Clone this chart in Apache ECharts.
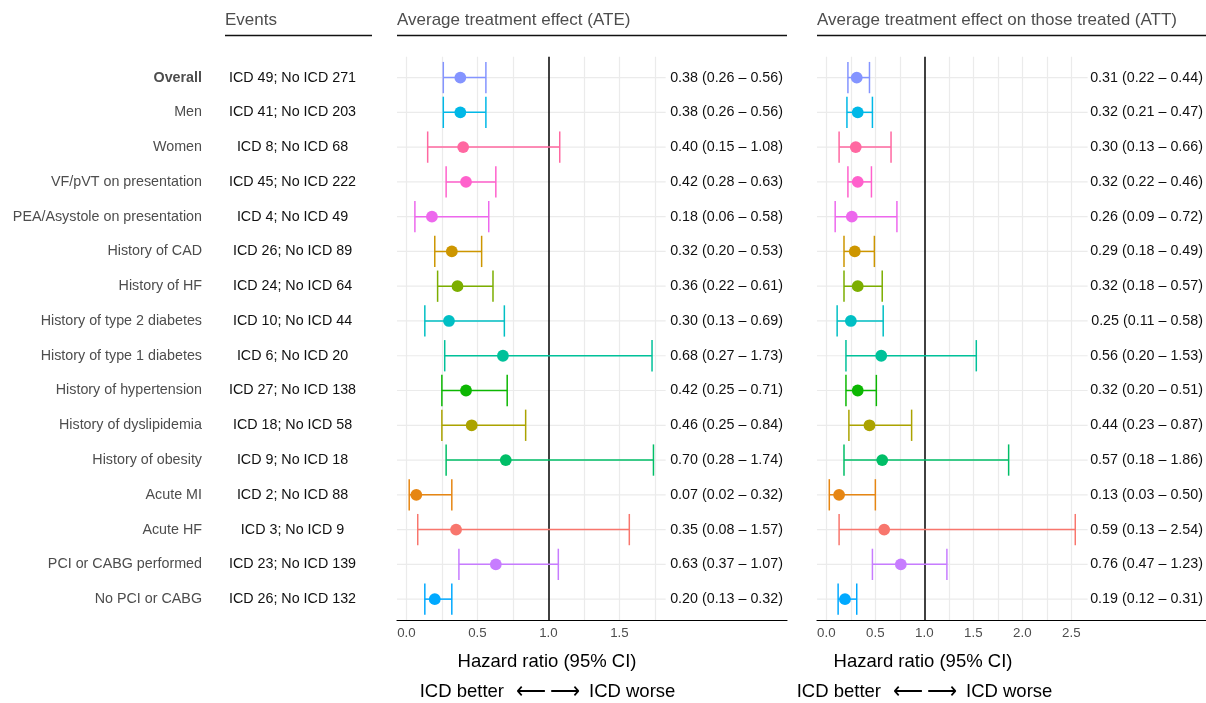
<!DOCTYPE html>
<html>
<head>
<meta charset="utf-8">
<title>ICD forest plot</title>
<script src="https://cdn.jsdelivr.net/npm/echarts@6/dist/echarts.min.js"></script>
<style>
  html, body { margin: 0; padding: 0; background: #fff; }
  #forest { width: 1206px; height: 703px; }
</style>
</head>
<body>
<div id="forest"></div>
<script>
// subgroups, top to bottom
var subgroups = [
  "Overall", "Men", "Women", "VF/pVT on presentation", "PEA/Asystole on presentation",
  "History of CAD", "History of HF", "History of type 2 diabetes", "History of type 1 diabetes",
  "History of hypertension", "History of dyslipidemia", "History of obesity",
  "Acute MI", "Acute HF", "PCI or CABG performed", "No PCI or CABG"
];
var icdEvents   = [49, 41, 8, 45, 4, 26, 24, 10, 6, 27, 18, 9, 2, 3, 23, 26];
var noIcdEvents = [271, 203, 68, 222, 49, 89, 64, 44, 20, 138, 58, 18, 88, 9, 139, 132];

// average treatment effect (ATE)
var ateEst = [0.38, 0.38, 0.40, 0.42, 0.18, 0.32, 0.36, 0.30, 0.68, 0.42, 0.46, 0.70, 0.07, 0.35, 0.63, 0.20];
var ateLo  = [0.26, 0.26, 0.15, 0.28, 0.06, 0.20, 0.22, 0.13, 0.27, 0.25, 0.25, 0.28, 0.02, 0.08, 0.37, 0.13];
var ateHi  = [0.56, 0.56, 1.08, 0.63, 0.58, 0.53, 0.61, 0.69, 1.73, 0.71, 0.84, 1.74, 0.32, 1.57, 1.07, 0.32];

// average treatment effect on those treated (ATT)
var attEst = [0.31, 0.32, 0.30, 0.32, 0.26, 0.29, 0.32, 0.25, 0.56, 0.32, 0.44, 0.57, 0.13, 0.59, 0.76, 0.19];
var attLo  = [0.22, 0.21, 0.13, 0.22, 0.09, 0.18, 0.18, 0.11, 0.20, 0.20, 0.23, 0.18, 0.03, 0.13, 0.47, 0.12];
var attHi  = [0.44, 0.47, 0.66, 0.46, 0.72, 0.49, 0.57, 0.58, 1.53, 0.51, 0.87, 1.86, 0.50, 2.54, 1.23, 0.31];

// tick labels and grid lines
var ateTicks = [0, 0.5, 1, 1.5];
var attTicks = [0, 0.5, 1, 1.5, 2, 2.5];
var ateGridX = [0, 0.25, 0.5, 0.75, 1.25, 1.5, 1.75];
var attGridX = [0, 0.25, 0.5, 0.75, 1.25, 1.5, 1.75, 2, 2.25, 2.5];

// colour per subgroup (hue palette, alphabetical order of the groups)
var groupColors = [
  "#8494FF", "#00B8E7", "#FF68A1", "#FF61CC", "#ED68ED",
  "#CD9600", "#7CAE00", "#00BFC4", "#00C19A",
  "#0CB702", "#ABA300", "#00BE67",
  "#E68613", "#F8766D", "#C77CFF", "#00A9FF"
];

var FONT = "'Liberation Sans', Arial, Helvetica, sans-serif";
var rows = subgroups.map(function (_, i) { return i; });

function ciText(e, lo, hi) {
  return rows.map(function (i) {
    return e[i].toFixed(2) + " (" + lo[i].toFixed(2) + " \u2013 " + hi[i].toFixed(2) + ")";
  });
}
var ateText = ciText(ateEst, ateLo, ateHi);
var attText = ciText(attEst, attLo, attHi);
var eventText = rows.map(function (i) {
  return "ICD " + icdEvents[i] + "; No ICD " + noIcdEvents[i];
});

// panel extents (data range plus 5 %)
function panelRange(lo, hi) {
  var a = Math.min.apply(null, lo), b = Math.max.apply(null, hi);
  var pad = (b - a) * 0.05;
  return [a - pad, b + pad];
}
var ateRange = panelRange(ateLo, ateHi);
var attRange = panelRange(attLo, attHi);

var gridTop = 56.7, gridHeight = 563.3;
var ateLeft = 397, ateWidth = 390, ateScale = 142;
var attLeft = 817, attWidth = 389, attScale = 98;

function yAxisBase(gridIndex, position) {
  return {
    type: "value", gridIndex: gridIndex, position: position,
    min: -0.6, max: rows.length - 0.4, inverse: true,
    axisLine: { show: false, onZero: false },
    axisTick: { show: false },
    splitLine: { show: false }
  };
}

function xAxisBase(gridIndex, range, width, scale, ticks) {
  return {
    type: "value", gridIndex: gridIndex,
    min: range[0], max: range[0] + width / scale,
    axisLine: { show: true, onZero: false, lineStyle: { color: "#000", width: 1.2 } },
    axisTick: { show: false },
    splitLine: { show: false },
    axisLabel: {
      customValues: ticks, margin: 7, color: "#4d4d4d", fontSize: 13.3, fontFamily: FONT,
      formatter: function (v) { return v.toFixed(1); }
    }
  };
}

function gridSeries(xIdx, yIdx, range, vlines) {
  return {
    type: "custom", xAxisIndex: xIdx, yAxisIndex: yIdx, silent: true, z: 1,
    data: rows.map(function (i) { return [range[0], i, range[1]]; }),
    encode: { x: [0, 2], y: 1 },
    renderItem: function (params, api) {
      var a = api.coord([api.value(0), api.value(1)]);
      var b = api.coord([api.value(2), api.value(1)]);
      return {
        type: "line",
        shape: { x1: a[0], y1: a[1], x2: b[0], y2: b[1] },
        style: { stroke: "#ebebeb", lineWidth: 1.2 }
      };
    },
    markLine: {
      silent: true, symbol: "none", animation: false,
      label: { show: false },
      lineStyle: { color: "#ebebeb", width: 1.2, type: "solid" },
      data: vlines.map(function (v) { return { xAxis: v }; })
        .concat([{ xAxis: 1, lineStyle: { color: "#111", width: 1.6, type: "solid" } }])
    }
  };
}

function errorSeries(xIdx, yIdx, est, lo, hi) {
  return {
    type: "custom", xAxisIndex: xIdx, yAxisIndex: yIdx, z: 5,
    data: rows.map(function (i) { return [i, est[i], lo[i], hi[i]]; }),
    encode: { y: 0, x: [1, 2, 3] },
    renderItem: function (params, api) {
      var row = api.value(0);
      var c = groupColors[params.dataIndex];
      var pe = api.coord([api.value(1), row]);
      var pl = api.coord([api.value(2), row]);
      var ph = api.coord([api.value(3), row]);
      var half = Math.abs(api.size([0, 0.45])[1]);
      var ls = { stroke: c, lineWidth: 1.5 };
      return {
        type: "group",
        children: [
          { type: "line", shape: { x1: pl[0], y1: pl[1], x2: ph[0], y2: ph[1] }, style: ls },
          { type: "line", shape: { x1: pl[0], y1: pl[1] - half, x2: pl[0], y2: pl[1] + half }, style: ls },
          { type: "line", shape: { x1: ph[0], y1: ph[1] - half, x2: ph[0], y2: ph[1] + half }, style: ls },
          { type: "circle", shape: { cx: pe[0], cy: pe[1], r: 5.9 }, style: { fill: c } }
        ]
      };
    }
  };
}

function headText(x, y, text, size, color, align) {
  return {
    type: "text", x: x, y: y, silent: true,
    style: {
      text: text, fill: color, font: size + "px " + FONT,
      textAlign: align || "left", textVerticalAlign: "middle"
    }
  };
}
function rule(x1, x2, y) {
  return { type: "line", silent: true, shape: { x1: x1, y1: y, x2: x2, y2: y }, style: { stroke: "#111", lineWidth: 1.3 } };
}

var chart = echarts.init(document.getElementById("forest"));

var leftLabels = yAxisBase(0, "left");
leftLabels.axisLabel = {
  customValues: rows, align: "right", margin: 195, color: "#4d4d4d", fontSize: 14.3, fontFamily: FONT,
  formatter: function (v) {
    var i = Math.round(v);
    return i === 0 ? "{b|" + subgroups[i] + "}" : subgroups[i];
  },
  rich: { b: { fontWeight: "bold", color: "#4d4d4d", fontSize: 14.3, fontFamily: FONT } }
};

var eventLabels = yAxisBase(0, "left");
eventLabels.axisLabel = {
  customValues: rows, align: "center", margin: 104.5, color: "#111", fontSize: 14.3, fontFamily: FONT,
  formatter: function (v) { return eventText[Math.round(v)]; }
};

var ateLabels = yAxisBase(0, "right");
ateLabels.axisLabel = {
  customValues: rows, inside: true, margin: 4, color: "#111", fontSize: 14.3, fontFamily: FONT,
  formatter: function (v) { return ateText[Math.round(v)]; }
};

var attLabels = yAxisBase(1, "right");
attLabels.axisLabel = {
  customValues: rows, inside: true, margin: 3, color: "#111", fontSize: 14.3, fontFamily: FONT,
  formatter: function (v) { return attText[Math.round(v)]; }
};

var option = {
  backgroundColor: "#fff",
  animation: false,
  grid: [
    { left: ateLeft, top: gridTop, width: ateWidth, height: gridHeight },
    { left: attLeft, top: gridTop, width: attWidth, height: gridHeight }
  ],
  xAxis: [
    xAxisBase(0, ateRange, ateWidth, ateScale, ateTicks),
    xAxisBase(1, attRange, attWidth, attScale, attTicks)
  ],
  yAxis: [leftLabels, eventLabels, ateLabels, attLabels],
  series: [
    gridSeries(0, 0, ateRange, ateGridX),
    errorSeries(0, 0, ateEst, ateLo, ateHi),
    gridSeries(1, 3, attRange, attGridX),
    errorSeries(1, 3, attEst, attLo, attHi)
  ],
  graphic: [
    headText(225, 20, "Events", 17, "#4d4d4d"),
    rule(225, 372, 35.5),
    headText(397, 20, "Average treatment effect (ATE)", 17, "#4d4d4d"),
    rule(397, 787, 35.5),
    headText(817, 20, "Average treatment effect on those treated (ATT)", 17, "#4d4d4d"),
    rule(817, 1206, 35.5),

    headText(547, 662, "Hazard ratio (95% CI)", 18.5, "#000", "center"),
    headText(504, 692, "ICD better", 18.5, "#000", "right"),
    headText(548, 692, "\u27F5\u2009\u27F6", 21, "#000", "center"),
    headText(589, 692, "ICD worse", 18.5, "#000", "left"),

    headText(923, 662, "Hazard ratio (95% CI)", 18.5, "#000", "center"),
    headText(881, 692, "ICD better", 18.5, "#000", "right"),
    headText(925, 692, "\u27F5\u2009\u27F6", 21, "#000", "center"),
    headText(966, 692, "ICD worse", 18.5, "#000", "left")
  ]
};

chart.setOption(option);
window.onresize = chart.resize;
</script>
</body>
</html>
